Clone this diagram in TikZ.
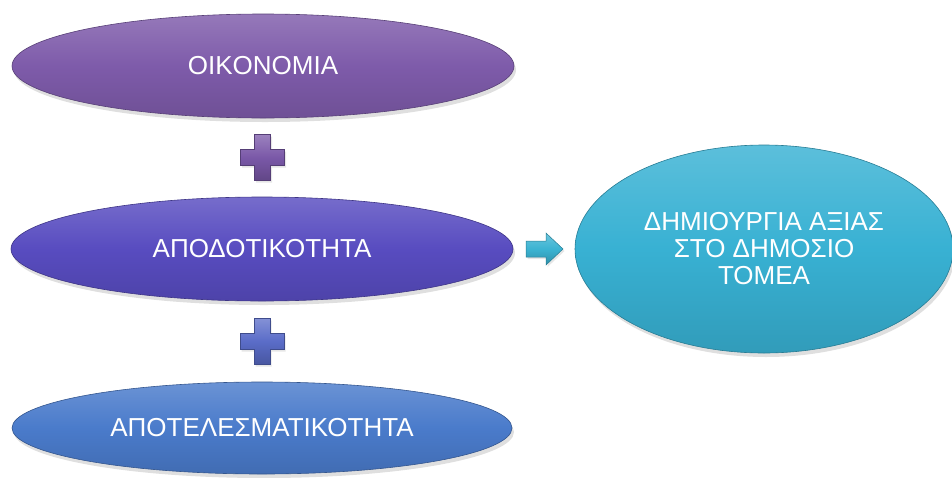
\documentclass[tikz,border=0pt]{standalone}
\usepackage{fontspec}
\setmainfont{Liberation Sans}
\usetikzlibrary{shapes.geometric,shadows,calc}

\definecolor{cEco}{HTML}{7E5BAA}
\definecolor{cEff}{HTML}{584CC0}
\definecolor{cRes}{HTML}{4A7BCB}
\definecolor{cVal}{HTML}{38B1D3}
\definecolor{cPlusA}{HTML}{7A58A8}
\definecolor{cPlusB}{HTML}{5A6CC8}
\definecolor{cArrow}{HTML}{3BB3D2}

\tikzset{
  pill/.style={ellipse, inner sep=0pt, text=white, font=\fontsize{26}{28}\selectfont,
    align=center, draw=#1!70!black, line width=0.6pt,
    top color=#1!82!white, bottom color=#1!88!black, middle color=#1,
    drop shadow={opacity=0.25, shadow xshift=2pt, shadow yshift=-4pt}},
  glyph/.style={draw=#1!70!black, line width=0.5pt,
    top color=#1!75!white, bottom color=#1!80!black, middle color=#1,
    drop shadow={opacity=0.2, shadow xshift=1.5pt, shadow yshift=-2pt}}
}

% plus sign centred at #1
\newcommand{\plusglyph}[2]{%
  \path[glyph=#2] ($(#1)+(-22,-8)$) -- ++(14,0) -- ++(0,-15) -- ++(16,0) -- ++(0,15)
    -- ++(14,0) -- ++(0,16) -- ++(-14,0) -- ++(0,15) -- ++(-16,0) -- ++(0,-15)
    -- ++(-14,0) -- cycle;}

\begin{document}
\begin{tikzpicture}[x=1pt,y=-1pt]
  \useasboundingbox (0,0) rectangle (952,477);

  \node[pill=cEco, minimum width=502pt, minimum height=104pt] (eco) at (263,66) {OIKONOMIA};
  \node[pill=cEff, minimum width=502pt, minimum height=104pt] (eff) at (262,249) {ΑΠΟΔΟΤΙΚΟΤΗΤΑ};
  \node[pill=cRes, minimum width=500pt, minimum height=92pt] (res) at (262,428) {ΑΠΟΤΕΛΕΣΜΑΤΙΚΟΤΗΤΑ};
  \node[pill=cVal, minimum width=378pt, minimum height=208pt, font=\fontsize{26}{27}\selectfont]
    (val) at (764,249) {ΔΗΜΙΟΥΡΓΙΑ ΑΞΙΑΣ\\ΣΤΟ ΔΗΜΟΣΙΟ\\ΤΟΜΕΑ};

  % plus signs between the stacked ellipses
  \coordinate (p1) at ($(eco.south)!0.5!(eff.north)$);
  \coordinate (p2) at ($(eff.south)!0.5!(res.north)$);
  \plusglyph{p1}{cPlusA}
  \plusglyph{p2}{cPlusB}

  % block arrow towards the result
  \coordinate (ar) at ($(eff.east)!0.5!(val.west)$);
  \path[glyph=cArrow] ($(ar)+(-18,-8)$) -- ++(20,0) -- ++(0,-8) -- ++(17,16)
    -- ++(-17,16) -- ++(0,-8) -- ++(-20,0) -- cycle;
\end{tikzpicture}
\end{document}
